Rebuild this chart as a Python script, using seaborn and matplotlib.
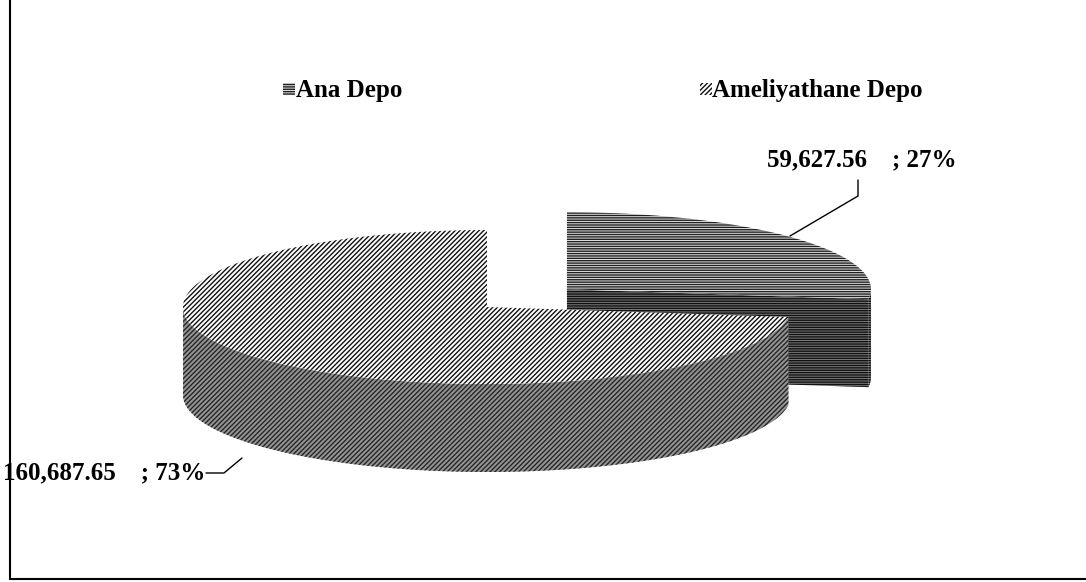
import numpy as np
import matplotlib
matplotlib.use("Agg")
import matplotlib.pyplot as plt
from matplotlib.patches import Polygon, Rectangle
import seaborn as sns

# ---- data ----
categories = ["Ana Depo", "Ameliyathane Depo"]
values = [59627.56, 160687.65]
explode = [0.35, 0.0]

sns.set_theme(style="white")
plt.rcParams['font.family'] = ['Liberation Serif', 'DejaVu Serif']
plt.rcParams['text.color'] = 'black'
plt.rcParams['hatch.linewidth'] = 1.0

W, H = 1086, 582
fig = plt.figure(figsize=(W / 100, H / 100), dpi=100)
ax = fig.add_axes([0, 0, 1, 1])
ax.set_xlim(0, W)
ax.set_ylim(H, 0)
ax.axis("off")

# pie geometry (layout)
cx, cy = 487, 307
rx, ry = 304, 77
depth = 88

styles = [
    dict(top=("#e2e2e2", "#202020", "-" * 7), side=("#7a7a7a", "#111111", "-" * 7)),
    dict(top=("#ffffff", "#111111", "/" * 7), side=("#959595", "#252525", "/" * 7)),
]

total = sum(values)
fracs = [v / total for v in values]
angles = np.concatenate([[0], np.cumsum(fracs) * 360])


def rim(t, ox, oy, dz=0):
    t = np.radians(t)
    return np.column_stack([ox + rx * np.sin(t), oy - ry * np.cos(t) + dz])


def draw_poly(pts, style, z):
    fc, hc, hatch = style
    ax.add_patch(Polygon(pts, closed=True, facecolor=fc, edgecolor=hc,
                         hatch=hatch, linewidth=0, zorder=z))


for i in range(len(values)):
    a0, a1 = angles[i], angles[i + 1]
    mid = np.radians((a0 + a1) / 2)
    ox = cx + explode[i] * rx * np.sin(mid)
    oy = cy - explode[i] * ry * np.cos(mid)
    z = 2 + i * 3
    ts = np.linspace(a0, a1, 200)
    # radial faces that face the viewer
    for a, sign in ((a0, -1), (a1, 1)):
        c = np.cos(np.radians(a))
        if (sign == 1 and c < -1e-6) or (sign == -1 and c > 1e-6):
            p = rim([a], ox, oy)[0]
            face = np.array([[ox, oy], p, [p[0], p[1] + depth], [ox, oy + depth]])
            draw_poly(face, styles[i]["side"], z)
    # front outer rim
    front = ts[(ts >= 90) & (ts <= 270)]
    if len(front) > 1:
        top_pts = rim(front, ox, oy)
        bot_pts = rim(front[::-1], ox, oy, depth)
        draw_poly(np.vstack([top_pts, bot_pts]), styles[i]["side"], z + 1)
    # top face
    top = np.vstack([[ox, oy], rim(ts, ox, oy)])
    draw_poly(top, styles[i]["top"], z + 2)

# ---- data labels ----
fs = 18
lbl = [f"{v:,.2f}    ; {f * 100:.0f}%" for v, f in zip(values, fracs)]
ax.text(767, 166, lbl[0], fontsize=fs, fontweight="bold", ha="left", va="baseline",
        color="black", zorder=10)
ax.plot([858, 858, 790], [180, 196, 236], color="black", lw=1, zorder=10)
ax.text(3, 479, lbl[1], fontsize=fs, fontweight="bold", ha="left", va="baseline",
        color="black", zorder=10)
ax.plot([206, 224, 242], [473, 473, 458], color="black", lw=1, zorder=10)

# ---- legend ----
leg_pos = [(283, 296), (700, 712)]
for i, (mx, tx) in enumerate(leg_pos):
    fc, hc, hatch = styles[i]["top"]
    ax.add_patch(Rectangle((mx, 83), 12, 12, facecolor=fc, edgecolor=hc,
                           hatch=hatch, linewidth=0, zorder=10))
    ax.text(tx, 97, categories[i], fontsize=fs, fontweight="bold",
            ha="left", va="baseline", color="black", zorder=10)

# ---- frame ----
ax.plot([10, 10, W], [0, 579, 579], color="black", lw=1.5, zorder=11,
        solid_joinstyle="miter")

fig.savefig("out.png", dpi=100)
